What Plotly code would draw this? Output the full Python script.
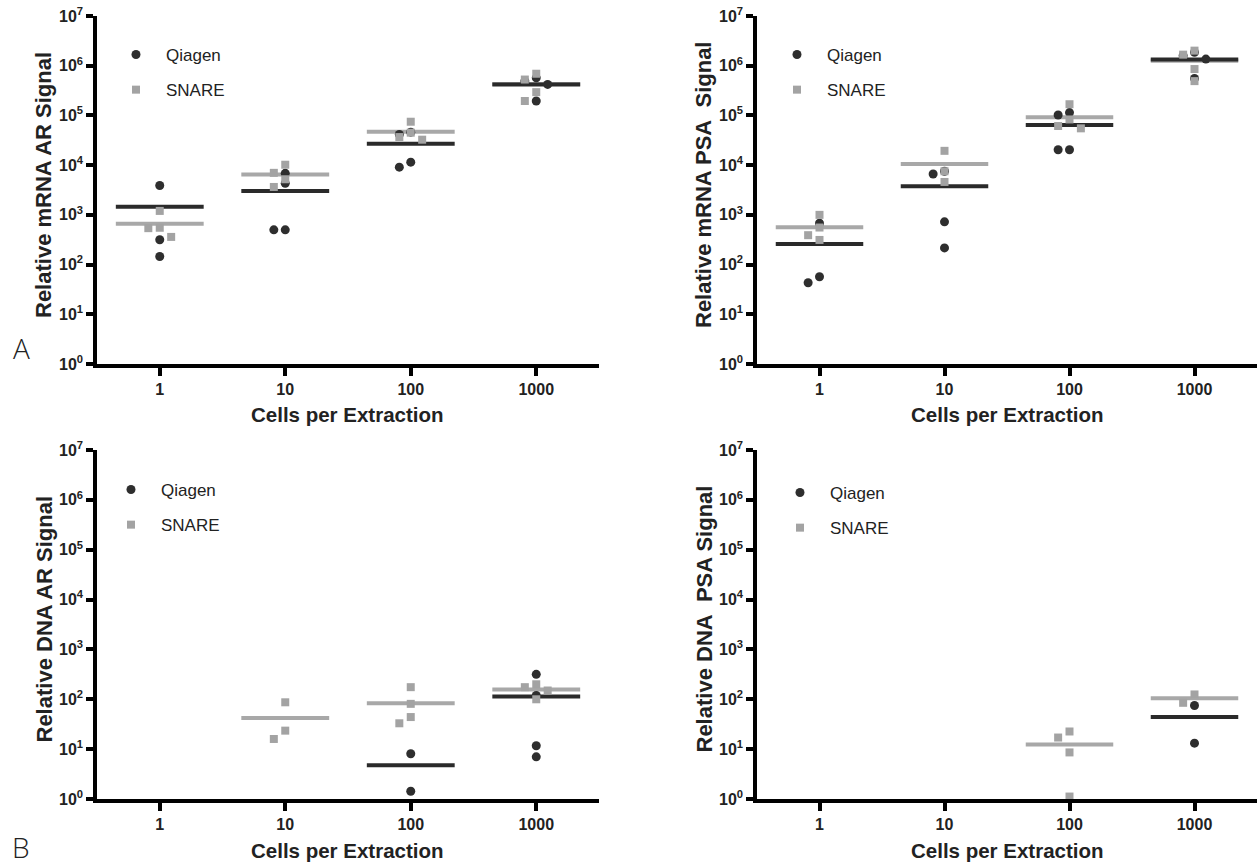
import numpy as np
import plotly.graph_objects as go

# ---------------- data ----------------
categories = ["1", "10", "100", "1000"]
series_names = ["Qiagen", "SNARE"]

mrna_ar_qiagen = [[3900, 315, 145], [6840, 4300, 500, 500],
                  [41500, 46000, 9100, 11500], [571000, 490000, 420000, 195000]]
mrna_ar_snare = [[1200, 540, 550, 360], [10200, 7000, 5200, 3640],
                 [74700, 45000, 36700, 32500], [527000, 690000, 294000, 195000]]

mrna_psa_qiagen = [[680, 57, 43], [7530, 6650, 724, 216],
                   [102000, 114000, 20400, 20400], [1860000, 1360000, 1590000, 555000]]
mrna_psa_snare = [[1000, 556, 390, 313], [19400, 7530, 4590],
                  [168000, 61200, 55000, 83000], [2010000, 1670000, 857000, 490000]]

dna_ar_qiagen = [[], [], [8.1, 1.43], [316, 119, 11.7, 7.0]]
dna_ar_snare = [[], [87, 23.5, 16], [175, 81, 44, 33], [200, 175, 150, 100]]

dna_psa_qiagen = [[], [], [], [75, 13.2]]
dna_psa_snare = [[], [], [22.6, 17.1, 8.6, 1.12], [125, 85]]

y_titles = ["Relative mRNA AR Signal",
            "Relative mRNA PSA\u00a0\u00a0Signal",
            "Relative DNA AR Signal",
            "Relative DNA\u00a0\u00a0PSA Signal"]
x_title = "Cells per Extraction"
decade_exponents = [0, 1, 2, 3, 4, 5, 6, 7]

# ---------------- styling ----------------
W, H = 1257, 865
FONT = "Arial, Liberation Sans, sans-serif"
DARK = "#2e2e2e"
GRAY = "#a3a3a3"
LINE_DARK = "#2a2a2a"
LINE_GRAY = "#a8a8a8"
STEP = 0.091          # horizontal jitter step (category units)
HALF = 0.35           # half width of mean line (category units)


def px(x):
    return x / W


def py(y):
    return 1 - y / H


# pixel layout of the four plotting areas (left, right, top, bottom)
areas = [
    (97, 599, 16, 364),
    (757, 1257, 16, 364),
    (97, 599, 450, 799),
    (757, 1257, 450, 799),
]


def swarm(values, thresh=0.19):
    offs = [0] * len(values)
    placed = []
    order = sorted(range(len(values)), key=lambda i: -values[i])
    for i in order:
        lv = np.log10(values[i])
        for k in [0, -1, 1, -2, 2, -3, 3]:
            if all(not (pk == k and abs(pl - lv) < thresh) for pk, pl in placed):
                placed.append((k, lv))
                offs[i] = k
                break
    return offs


def points(groups):
    xs, ys = [], []
    for ci, vals in enumerate(groups):
        if not vals:
            continue
        for k, v in zip(swarm(vals), vals):
            xs.append(ci + k * STEP)
            ys.append(v)
    return xs, ys


def means(groups):
    xs, ys = [], []
    for ci, vals in enumerate(groups):
        if not vals:
            continue
        m = float(np.mean(vals))
        xs += [ci - HALF, ci + HALF, None]
        ys += [m, m, None]
    return xs, ys


panels = [
    (mrna_ar_qiagen, mrna_ar_snare),
    (mrna_psa_qiagen, mrna_psa_snare),
    (dna_ar_qiagen, dna_ar_snare),
    (dna_psa_qiagen, dna_psa_snare),
]

fig = go.Figure()
layout = dict(
    width=W, height=H,
    margin=dict(l=0, r=0, t=0, b=0, autoexpand=False),
    paper_bgcolor="white", plot_bgcolor="white",
    font=dict(family=FONT, color="black"),
    annotations=[],
)

legend_names = ["legend", "legend2", "legend3", "legend4"]
legend_pos = [(106, 37), (767, 37), (101, 472), (770, 475)]

for p, (qdata, sdata) in enumerate(panels):
    sfx = "" if p == 0 else str(p + 1)
    xa, ya = "x" + sfx, "y" + sfx
    L, R, T, B = areas[p]

    # mean lines
    gx, gy = means(sdata)
    fig.add_trace(go.Scatter(x=gx, y=gy, mode="lines", xaxis=xa, yaxis=ya,
                             line=dict(color=LINE_GRAY, width=4),
                             showlegend=False, hoverinfo="skip"))
    bx, by = means(qdata)
    fig.add_trace(go.Scatter(x=bx, y=by, mode="lines", xaxis=xa, yaxis=ya,
                             line=dict(color=LINE_DARK, width=4),
                             showlegend=False, hoverinfo="skip"))
    # points
    sx, sy = points(sdata)
    qx, qy = points(qdata)
    fig.add_trace(go.Scatter(
        x=qx, y=qy, mode="markers", xaxis=xa, yaxis=ya, cliponaxis=False,
        name=series_names[0], legend=legend_names[p],
        legendgroup=f"q{p}",
        marker=dict(symbol="circle", size=9, color=DARK)))
    fig.add_trace(go.Scatter(
        x=sx, y=sy, mode="markers", xaxis=xa, yaxis=ya, cliponaxis=False,
        name=series_names[1], legend=legend_names[p],
        legendgroup=f"s{p}",
        marker=dict(symbol="square", size=8, color=GRAY)))

    layout["xaxis" + sfx] = dict(
        domain=[px(L), min(px(R), 1.0)], anchor=ya, range=[-0.5, 3.5], automargin=False,
        tickvals=list(range(len(categories))), ticktext=categories,
        showline=True, linecolor="black", linewidth=3.5,
        ticks="outside", ticklen=8, tickwidth=3.5, tickcolor="black",
        showgrid=False, zeroline=False, fixedrange=True, ticklabeloverflow="allow",
        tickfont=dict(family=FONT, size=16, weight="bold", color="#222"))
    layout["yaxis" + sfx] = dict(
        domain=[py(B), py(T)], anchor=xa, type="log", range=[0, 7],
        automargin=False, ticklabeloverflow="allow",
        tickvals=[10 ** e for e in decade_exponents],
        ticktext=[f"10<sup>{e}</sup>" for e in decade_exponents],
        showline=True, linecolor="black", linewidth=3.5,
        ticks="outside", ticklen=7, tickwidth=3.5, tickcolor="black",
        showgrid=False, zeroline=False, fixedrange=True,
        tickfont=dict(family=FONT, size=16, weight="bold", color="#222"))

    # axis titles
    layout["annotations"].append(dict(
        text=x_title, xref="paper", yref="paper",
        x=px((L + R) / 2), y=py(B + 51), xanchor="center", yanchor="middle",
        showarrow=False, font=dict(family=FONT, size=20.5, weight="bold", color="#222")))
    layout["annotations"].append(dict(
        text=y_titles[p], xref="paper", yref="paper", textangle=-90,
        x=px(L - 53), y=py((T + B) / 2 - 5), xanchor="center", yanchor="middle",
        showarrow=False, font=dict(family=FONT, size=22, weight="bold", color="#222")))

    lx, ly = legend_pos[p]
    layout[legend_names[p]] = dict(
        x=px(lx), y=py(ly), xanchor="left", yanchor="top",
        bgcolor="rgba(0,0,0,0)", borderwidth=0, itemwidth=50,
        traceorder="grouped", tracegroupgap=10,
        font=dict(family=FONT, size=17, color="#222"))

# panel letters
for letter, yy in [("A", 348), ("B", 847)]:
    layout["annotations"].append(dict(
        text=letter, xref="paper", yref="paper", x=px(21), y=py(yy),
        xanchor="center", yanchor="middle", showarrow=False,
        font=dict(family="Open Sans, DejaVu Sans, sans-serif", size=28, weight=300, color="#222")))

fig.update_layout(**layout)
# remove the default page margin so the figure fills the browser window exactly
fig.write_html("out.html", config={"displayModeBar": False},
               post_script="document.body.style.margin='0';document.body.style.overflow='hidden';")
